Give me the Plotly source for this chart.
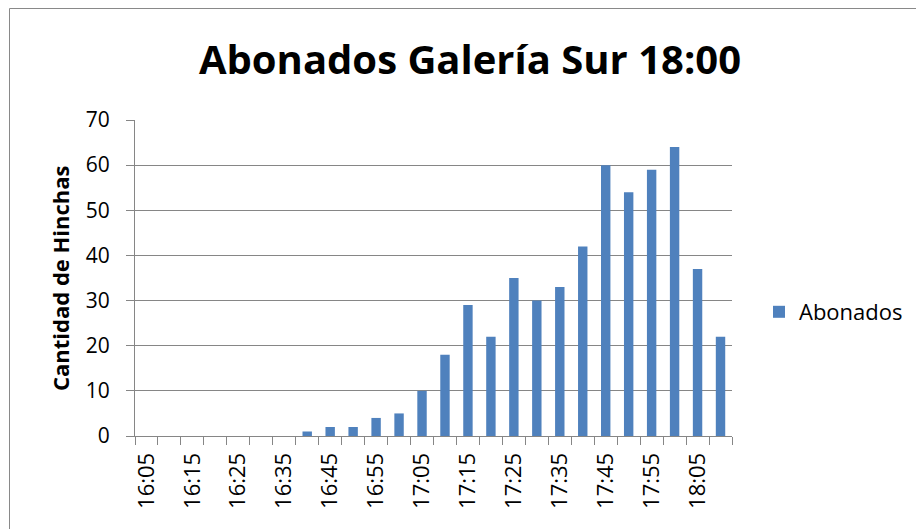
import plotly.graph_objects as go

categories = ["16:05", "16:10", "16:15", "16:20", "16:25", "16:30", "16:35",
              "16:40", "16:45", "16:50", "16:55", "17:00", "17:05", "17:10",
              "17:15", "17:20", "17:25", "17:30", "17:35", "17:40", "17:45",
              "17:50", "17:55", "18:00", "18:05", "18:10"]
abonados = [0, 0, 0, 0, 0, 0, 0, 1, 2, 2, 4, 5, 10, 18, 29, 22, 35, 30, 33,
            42, 60, 54, 59, 64, 37, 22]

FONT = "Open Sans"
OFF = 8  # page body margin
W, H = 924 - OFF, 529 - OFF
L, R, T, B = 135 - OFF, 732 - OFF, 120 - OFF, 436 - OFF
pw, ph = R - L, B - T

def px(x):
    return (x - OFF - L) / pw

def py(y):
    return (B - (y - OFF)) / ph

fig = go.Figure()
fig.add_trace(go.Bar(x=categories, y=abonados, name="Abonados",
                     marker=dict(color="#4F81BD", line=dict(width=0)),
                     width=0.41))

fig.update_layout(
    width=W, height=H,
    margin=dict(l=L, r=W - R, t=T, b=H - B, pad=0, autoexpand=False),
    paper_bgcolor="white", plot_bgcolor="white",
    font=dict(family=FONT, color="black", size=21),
    title=dict(text="<b>Abonados Galería Sur 18:00</b>",
               font=dict(family=FONT, size=40, color="black"),
               x=(470 - OFF) / W, xanchor="center", xref="container",
               y=1 - (60 - OFF) / H, yanchor="middle", yref="container"),
    showlegend=True,
    legend=dict(x=px(759), y=py(312), xanchor="left", yanchor="middle",
                font=dict(family=FONT, size=22, color="black"),
                bgcolor="rgba(0,0,0,0)", itemwidth=30),
    xaxis=dict(type="category", tickson="boundaries", tickmode="linear",
               tick0=0, dtick=1, ticklabelstep=2,
               ticks="outside", ticklen=8, tickcolor="#868686",
               showline=True, linecolor="#868686", linewidth=1,
               showgrid=False, tickangle=-90, ticklabelstandoff=7,
               tickfont=dict(family=FONT, size=22, color="black")),
    yaxis=dict(range=[0, 70], dtick=10, ticks="outside", ticklen=8,
               tickcolor="#868686", showline=True, linecolor="#868686",
               linewidth=1, showgrid=True, gridcolor="#868686", gridwidth=1,
               zeroline=False, ticklabelstandoff=12,
               tickfont=dict(family=FONT, size=21, color="black")),
    annotations=[dict(text="<b>Cantidad de Hinchas</b>", textangle=-90,
                      x=px(60), y=0.5, xref="paper", yref="paper",
                      xanchor="center", yanchor="middle", showarrow=False,
                      font=dict(family=FONT, size=22, color="black"))],
    shapes=[
        dict(type="line", xref="paper", yref="paper",
             x0=px(9.5), x1=px(940), y0=py(8.5), y1=py(8.5),
             line=dict(color="#898989", width=1)),
        dict(type="line", xref="paper", yref="paper",
             x0=px(9.5), x1=px(9.5), y0=py(8.5), y1=py(560),
             line=dict(color="#898989", width=1)),
    ],
)

fig.write_html("out.html")
